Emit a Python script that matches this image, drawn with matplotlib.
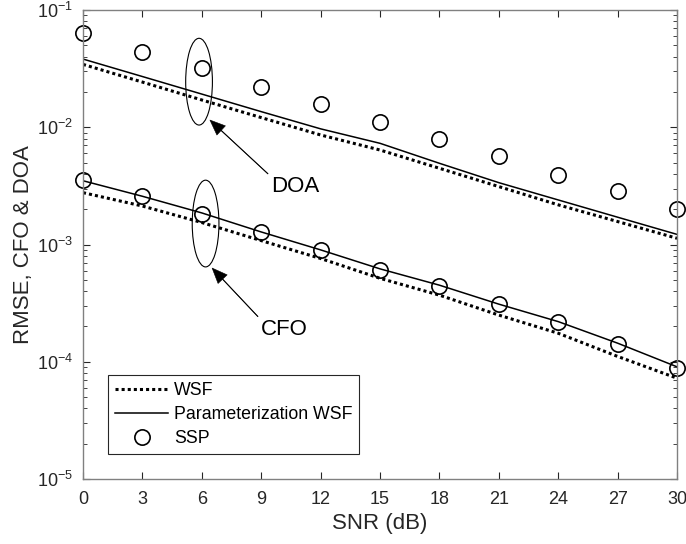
import matplotlib
matplotlib.use("Agg")
import matplotlib.pyplot as plt
import numpy as np
from matplotlib.patches import Ellipse

plt.rcParams["font.family"] = ["Liberation Sans", "DejaVu Sans"]
plt.rcParams["mathtext.fontset"] = "custom"
plt.rcParams["mathtext.rm"] = "Liberation Sans"
plt.rcParams["mathtext.it"] = "Liberation Sans:italic"
plt.rcParams["mathtext.bf"] = "Liberation Sans:bold"

snr = [0, 3, 6, 9, 12, 15, 18, 21, 24, 27, 30]

# DOA curves
doa_wsf = [0.0344, 0.0243, 0.0171, 0.0121, 0.0086, 0.0064, 0.00447, 0.00312, 0.00218, 0.00157, 0.00113]
doa_pwsf = [0.0382, 0.0271, 0.0192, 0.0136, 0.0097, 0.0073, 0.00493, 0.00337, 0.0024, 0.00171, 0.00122]
doa_ssp = [0.0633, 0.0441, 0.0322, 0.0222, 0.0157, 0.0111, 0.00788, 0.00573, 0.00395, 0.00288, 0.0020]

# CFO curves
cfo_wsf = [0.00277, 0.00213, 0.00154, 0.00108, 0.00076, 0.000515, 0.00037, 0.00025, 0.000175, 0.000111, 0.0000724]
cfo_pwsf = [0.0035, 0.00258, 0.00186, 0.00128, 0.0009, 0.00062, 0.00045, 0.00031, 0.00022, 0.000144, 0.0000905]
cfo_ssp = [0.00353, 0.00259, 0.00183, 0.00127, 0.0009, 0.000608, 0.000444, 0.000312, 0.00022, 0.000141, 0.0000893]

fig = plt.figure(figsize=(6.86, 5.44), dpi=100)
ax = fig.add_axes([0.121, 0.1195, 0.866, 0.862])

dot = dict(color="k", lw=2.2, linestyle=(0, (1, 1)))
sol = dict(color="k", lw=1.1)
mk = dict(linestyle="none", marker="o", markersize=11, markerfacecolor="none",
          markeredgecolor="k", markeredgewidth=1.2)

ax.plot(snr, doa_wsf, label="WSF", **dot)
ax.plot(snr, doa_pwsf, label="Parameterization WSF", **sol)
ax.plot(snr, doa_ssp, label="SSP", clip_on=False, **mk)
ax.plot(snr, cfo_wsf, **dot)
ax.plot(snr, cfo_pwsf, **sol)
ax.plot(snr, cfo_ssp, clip_on=False, **mk)

ax.set_yscale("log")
ax.set_xlim(0, 30)
ax.set_ylim(1e-5, 1e-1)
ax.set_xticks(snr)
ax.tick_params(which="both", direction="in", top=True, right=True,
               colors="#262626", labelsize=13)
ax.tick_params(axis="x", pad=9)
ax.tick_params(axis="y", pad=7)
ax.tick_params(which="major", length=5)
ax.tick_params(which="minor", length=3)
for s in ax.spines.values():
    s.set_color("#808080")
    s.set_linewidth(1.0)

ax.set_xlabel("SNR (dB)", fontsize=16, color="#262626", labelpad=3)
ax.set_ylabel("RMSE, CFO & DOA", fontsize=16, color="#262626", labelpad=2)


def to_axes(x, y):
    return ax.transAxes.inverted().transform(ax.transData.transform((x, y)))


# ellipses around the 6 dB points
for cx, cy in [(5.86, 0.0245), (6.19, 0.00151)]:
    ax.add_patch(Ellipse(to_axes(cx, cy), 0.045, 0.185, transform=ax.transAxes,
                         fill=False, ec="k", lw=0.8))

arrow = dict(width=0.4, headwidth=9, headlength=11, facecolor="k",
             edgecolor="k", lw=0.4, shrink=0.0)
ax.annotate("DOA", xy=(6.41, 0.01153), xytext=(10.7, 0.0031), fontsize=16,
            ha="center", va="center", arrowprops=arrow)
ax.annotate("CFO", xy=(6.52, 0.00063), xytext=(10.15, 0.000187), fontsize=16,
            ha="center", va="center", arrowprops=arrow)

leg = ax.legend(loc="lower left", bbox_to_anchor=(0.042, 0.053), borderaxespad=0,
                fontsize=12.8, fancybox=False, edgecolor="#262626",
                handlelength=3.0, handletextpad=0.3, borderpad=0.4,
                labelspacing=0.4, framealpha=1)
leg.get_frame().set_linewidth(0.8)

fig.savefig("out.png", dpi=100)
